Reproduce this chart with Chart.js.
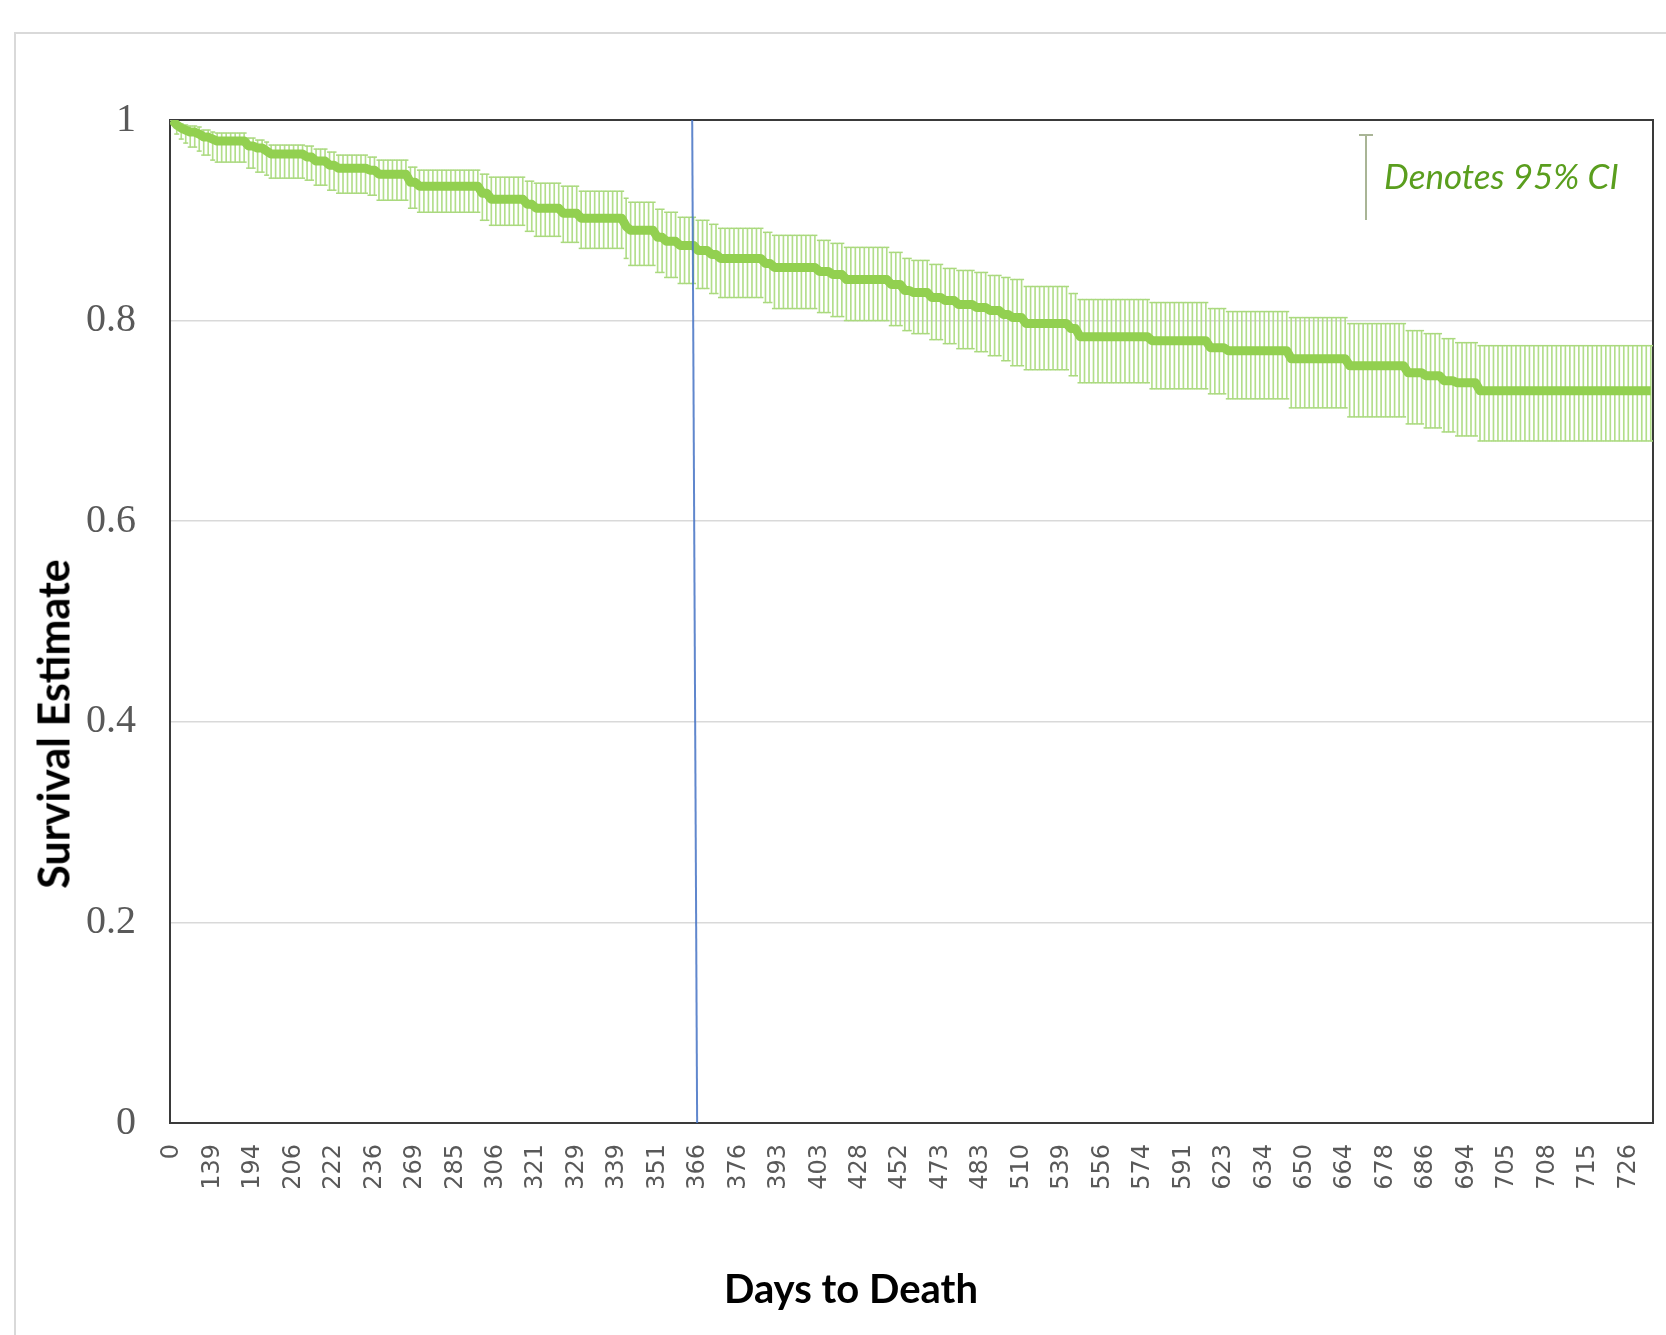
<!DOCTYPE html>
<html><head><meta charset="utf-8">
<script src="https://cdn.jsdelivr.net/npm/chart.js@4/dist/chart.umd.min.js"></script>
<style>
html,body{margin:0;padding:0;background:#fff;}
#wrap{position:relative;width:1666px;height:1335px;overflow:hidden;background:#fff;}
#frame{position:absolute;left:14px;top:32px;width:1700px;height:1400px;border-left:2px solid #d9d9d9;border-top:2px solid #d9d9d9;}
canvas{position:absolute;left:0;top:0;}
.ttl{position:absolute;font-family:Lato,"Open Sans",sans-serif;font-weight:bold;color:#000;white-space:nowrap;}
#ytitle{left:53px;top:724px;font-size:43px;transform:translate(-50%,-50%) rotate(-90deg);}
#xtitle{left:851px;top:1288px;font-size:40px;transform:translate(-50%,-50%);}
#legtext{position:absolute;left:1384px;top:175px;transform:translateY(-50%);font-family:Lato,"Open Sans",sans-serif;font-style:italic;font-size:35px;color:#5a9e1e;white-space:nowrap;}
#legline{position:absolute;left:1365px;top:135px;width:2px;height:85px;background:#a9b596;}
#legcap{position:absolute;left:1359px;top:134px;width:14px;height:2px;background:#a9b596;}
</style></head>
<body>
<div id="wrap">
  <div id="frame"></div>
  <canvas id="c" width="1666" height="1335"></canvas>
  <div id="ytitle" class="ttl">Survival Estimate</div>
  <div id="xtitle" class="ttl">Days to Death</div>
  <div id="legcap"></div>
  <div id="legline"></div>
  <div id="legtext">Denotes 95% CI</div>
</div>
<script>
// ---- data ----
const tickLabels = [0,139,194,206,222,236,269,285,306,321,329,339,351,366,376,393,403,428,452,473,483,510,539,556,574,591,623,634,650,664,678,686,694,705,708,715,726];
const N_CATEGORIES = 330;      // number of ordered observations along the x axis
const LABEL_EVERY = 9;         // a day label is shown on every 9th observation

// step function: observation index where each level starts, and the level values
const stepStart = [0,1,2,3,4,6,7,9,10,17,19,21,22,30,32,35,37,44,46,53,55,69,71,79,81,87,91,101,102,108,110,113,117,120,122,132,134,144,147,150,160,163,165,169,172,175,179,182,185,187,190,200,202,218,231,235,249,262,275,279,283,286,291];
const stepSurv  = [1.000,0.995,0.992,0.990,0.988,0.986,0.983,0.981,0.979,0.974,0.972,0.969,0.966,0.963,0.959,0.955,0.952,0.950,0.946,0.938,0.934,0.927,0.921,0.916,0.912,0.907,0.902,0.894,0.890,0.883,0.879,0.875,0.870,0.866,0.862,0.857,0.853,0.849,0.846,0.841,0.836,0.830,0.828,0.823,0.820,0.816,0.813,0.810,0.806,0.803,0.797,0.792,0.784,0.780,0.773,0.770,0.762,0.755,0.748,0.745,0.740,0.738,0.730];
const stepUpper = [1.000,0.998,0.996,0.995,0.994,0.993,0.990,0.988,0.987,0.982,0.980,0.978,0.975,0.974,0.971,0.968,0.965,0.963,0.960,0.953,0.950,0.946,0.943,0.939,0.937,0.934,0.929,0.922,0.918,0.911,0.908,0.903,0.900,0.896,0.892,0.888,0.885,0.880,0.877,0.873,0.868,0.862,0.860,0.856,0.852,0.850,0.848,0.845,0.843,0.841,0.834,0.827,0.821,0.818,0.812,0.809,0.803,0.797,0.790,0.787,0.782,0.778,0.775];
const stepLower = [1.000,0.986,0.981,0.977,0.973,0.969,0.965,0.960,0.958,0.952,0.948,0.945,0.942,0.940,0.935,0.930,0.927,0.925,0.920,0.912,0.908,0.900,0.895,0.889,0.884,0.878,0.872,0.862,0.855,0.848,0.843,0.837,0.832,0.827,0.823,0.818,0.812,0.808,0.804,0.800,0.795,0.790,0.787,0.781,0.777,0.772,0.769,0.765,0.760,0.755,0.751,0.745,0.738,0.732,0.727,0.722,0.713,0.704,0.697,0.693,0.689,0.685,0.680];

// hand-drawn reference line near one year (observation-index units, survival units)
const refLineX = [115.7, 116.8];
const refLineY = [1, 0];

// ---- build per-observation series (hold each step level until the next step) ----
function holdSteps(levels){
  const out = [];
  let k = 0;
  for (let i = 0; i < N_CATEGORIES; i++){
    while (k + 1 < stepStart.length && stepStart[k + 1] <= i) k++;
    out.push({x: i, y: levels[k]});
  }
  return out;
}
const surv  = holdSteps(stepSurv);
const upper = holdSteps(stepUpper);
const lower = holdSteps(stepLower);
const ciBars = lower.map((p, i) => ({x: p.x, y: [p.y, upper[i].y]}));

const plotFrame = {
  id: 'plotFrame',
  beforeDatasetsDraw(chart){
    const {ctx, chartArea: a} = chart;
    ctx.save();
    ctx.strokeStyle = '#3a3a3a';
    ctx.lineWidth = 2;
    ctx.strokeRect(a.left, a.top, a.right - a.left, a.bottom - a.top);
    ctx.restore();
  }
};

new Chart(document.getElementById('c'), {
  type: 'line',
  data: {
    datasets: [
      {label:'One year', data: refLineX.map((x, i) => ({x, y: refLineY[i]})),
       borderColor:'rgba(68,114,196,0.85)', borderWidth:2, pointRadius:0, order:0},
      {label:'Survival Estimate', data: surv, borderColor:'#92d050', borderWidth:9,
       pointRadius:0, tension:0, borderJoinStyle:'round', order:1},
      {label:'Upper 95% CI', data: upper, showLine:false, pointStyle:'line', pointRadius:2.5,
       pointBorderColor:'#aad97e', pointBorderWidth:1.5, order:2},
      {label:'Lower 95% CI', data: lower, showLine:false, pointStyle:'line', pointRadius:2.5,
       pointBorderColor:'#aad97e', pointBorderWidth:1.5, order:2},
      {type:'bar', label:'95% CI', data: ciBars, backgroundColor:'#b2de8a',
       borderWidth:0, barThickness:1, order:3}
    ]
  },
  options: {
    responsive:false, animation:false, events:[],
    layout:{padding:{left:0, right:13, top:120, bottom:0}},
    plugins:{legend:{display:false}, tooltip:{enabled:false}},
    scales:{
      x:{type:'linear', min:-0.5, max:N_CATEGORIES - 0.5, offset:false,
         grid:{display:false, drawTicks:false}, border:{display:false},
         afterBuildTicks(s){ s.ticks = tickLabels.map((_, k) => ({value: k * LABEL_EVERY})); },
         ticks:{autoSkip:false, maxRotation:90, minRotation:90, padding:21, color:'#595959',
                font:{family:'DejaVu Sans', size:24},
                callback:(v) => String(tickLabels[Math.round(v / LABEL_EVERY)])},
         afterFit(s){ s.height = 212; s.paddingLeft = 0; s.paddingRight = 0; }},
      y:{min:0, max:1, ticks:{stepSize:0.2, padding:34, color:'#595959', font:{family:'Liberation Serif', size:40},
                               callback:(v) => String(Math.round(v * 10) / 10)},
         grid:{color:'#d9d9d9', lineWidth:1.5, drawTicks:false}, border:{display:false},
         afterFit(s){ s.width = 170; s.paddingTop = 0; s.paddingBottom = 0; }}
    }
  },
  plugins:[plotFrame]
});
</script>
</body></html>
